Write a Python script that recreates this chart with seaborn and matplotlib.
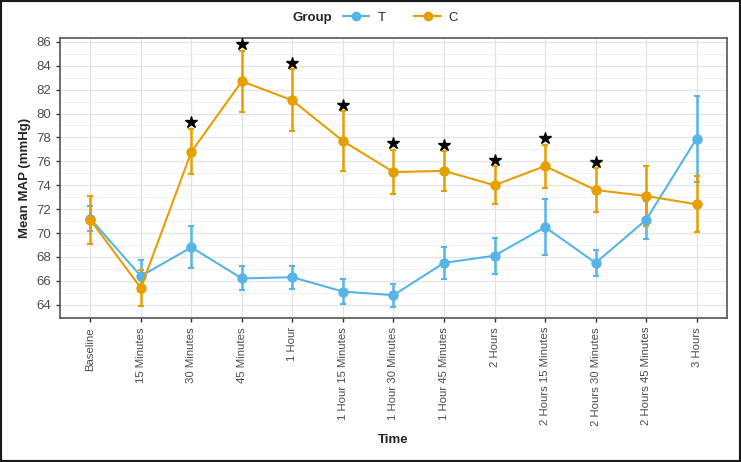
import numpy as np
import pandas as pd
import matplotlib.pyplot as plt
import seaborn as sns
from matplotlib.lines import Line2D
from matplotlib.patches import Rectangle

# time points
time_labels = ["Baseline", "15 Minutes", "30 Minutes", "45 Minutes", "1 Hour",
               "1 Hour 15 Minutes", "1 Hour 30 Minutes", "1 Hour 45 Minutes",
               "2 Hours", "2 Hours 15 Minutes", "2 Hours 30 Minutes",
               "2 Hours 45 Minutes", "3 Hours"]

# mean MAP and error
t_mean = [71.2, 66.4, 68.8, 66.2, 66.3, 65.1, 64.8, 67.5, 68.1, 70.5, 67.5, 71.1, 77.9]
t_err = [1.05, 1.35, 1.75, 1.0, 0.95, 1.05, 0.95, 1.35, 1.5, 2.35, 1.1, 1.6, 3.6]
c_mean = [71.1, 65.4, 76.8, 82.7, 81.1, 77.7, 75.1, 75.2, 74.0, 75.6, 73.6, 73.1, 72.4]
c_err = [2.0, 1.5, 1.9, 2.55, 2.6, 2.5, 1.85, 1.65, 1.6, 1.8, 1.8, 2.5, 2.35]

# significant time points (star above C)
sig_points = ["30 Minutes", "45 Minutes", "1 Hour", "1 Hour 15 Minutes",
              "1 Hour 30 Minutes", "1 Hour 45 Minutes", "2 Hours",
              "2 Hours 15 Minutes", "2 Hours 30 Minutes"]

colors = {"T": "#56B4E9", "C": "#E69F00"}

n = len(time_labels)
df = pd.DataFrame({
    "pos": list(range(n)) * 2,
    "Time": time_labels * 2,
    "MAP": t_mean + c_mean,
    "err": t_err + c_err,
    "Group": ["T"] * n + ["C"] * n,
})

sns.set_theme(style="white")
plt.rcParams['font.family'] = ['Liberation Sans', 'DejaVu Sans']

fig = plt.figure(figsize=(7.41, 4.62), dpi=100)
ax = fig.add_axes([0.081, 0.312, 0.9, 0.606])

# ggplot-like grid
ax.set_yticks(np.arange(64, 87, 2))
ax.set_yticks(np.arange(63, 87, 1), minor=True)
ax.grid(True, which="major", color="#e3e3e3", lw=0.9)
ax.grid(True, which="minor", axis="y", color="#efefef", lw=0.6)
ax.set_axisbelow(True)

for g in ["T", "C"]:
    sub = df[df["Group"] == g]
    ax.errorbar(sub["pos"], sub["MAP"], yerr=sub["err"], fmt="none",
                ecolor=colors[g], elinewidth=1.8, capsize=2.5, capthick=1.5, zorder=2)

sns.lineplot(data=df, x="pos", y="MAP", hue="Group", palette=colors,
             marker="o", markersize=7.5, markeredgewidth=0, linewidth=1.5,
             legend=False, ax=ax, zorder=3)

# stars
c_df = df[df["Group"] == "C"].set_index("Time")
for lab in sig_points:
    row = c_df.loc[lab]
    ax.plot(row["pos"], row["MAP"] + row["err"] + 0.55, marker="*", color="black",
            markersize=9, ls="none", zorder=4)

ax.set_xlim(-0.6, 12.6)
ax.set_ylim(62.9, 86.33)
ax.set_xticks(range(n))
ax.set_xticklabels(time_labels, rotation=90, fontsize=8.2, color="#4d4d4d")
ax.tick_params(axis="y", labelsize=9.5, labelcolor="#4d4d4d")
ax.tick_params(axis="both", which="major", length=3, width=1, color="#333333",
               left=True, bottom=True)
ax.tick_params(axis="y", which="minor", length=0)
for s in ax.spines.values():
    s.set_color("#555555")
    s.set_linewidth(1.2)

ax.set_xlabel("Time", fontsize=9.5, fontweight="bold", labelpad=6)
ax.set_ylabel("Mean MAP (mmHg)", fontsize=9.5, fontweight="bold", labelpad=4)

# legend on top, title inline
fig.text(0.395, 0.962, "Group", fontsize=9.5, fontweight="bold",
         ha="left", va="center")
handles = [Line2D([0], [0], color=colors[g], marker="o", markersize=6, lw=1.5)
           for g in ["T", "C"]]
fig.legend(handles, ["T", "C"], loc="center left",
           bbox_to_anchor=(0.463, 0.962), ncol=2, frameon=False,
           fontsize=9.5, handlelength=2.0, columnspacing=2.2, handletextpad=0.6,
           borderaxespad=0, borderpad=0)

# figure border
fig.patches.append(Rectangle((0, 0), 1, 1, transform=fig.transFigure,
                             fill=False, ec="#1a1a1a", lw=3))

fig.savefig("out.png", dpi=100)
